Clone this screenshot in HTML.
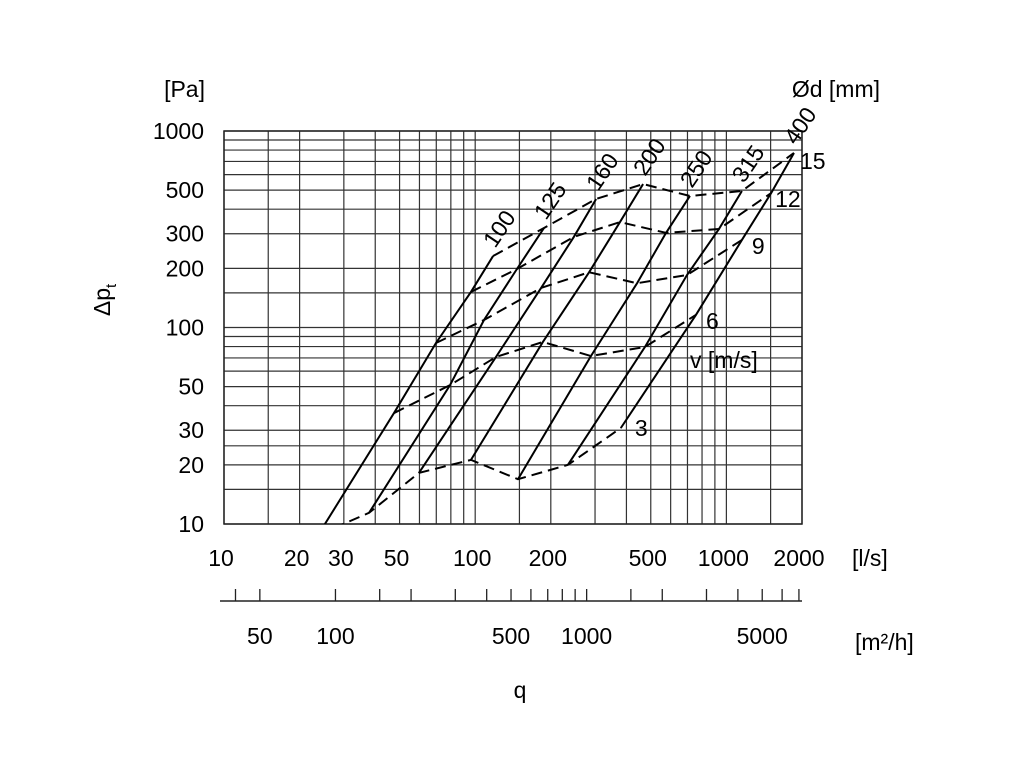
<!DOCTYPE html>
<html><head><meta charset="utf-8"><style>
html,body{margin:0;padding:0;background:#fff;}
svg{display:block;font-family:"Liberation Sans",Arial,sans-serif;}
</style></head><body>
<svg id="chart" width="1024" height="768" viewBox="0 0 1024 768" xmlns="http://www.w3.org/2000/svg">
<defs><clipPath id="plotclip"><rect x="224" y="131" width="578" height="393"/></clipPath></defs>
<g id="grid"></g>
<g id="curves" clip-path="url(#plotclip)"></g>
<g id="labels"></g>
<text x="205" y="97" font-size="23" text-anchor="end">[Pa]</text>
<text x="880" y="97" font-size="23" text-anchor="end">Ød [mm]</text>
<text x="852" y="566" font-size="23">[l/s]</text>
<text x="855" y="650" font-size="23">[m²/h]</text>
<text x="520" y="698" font-size="23" text-anchor="middle">q</text>
<text transform="translate(110,300) rotate(-90)" font-size="23" text-anchor="middle">Δp<tspan font-size="15" dy="6">t</tspan></text>
<text x="690" y="368" font-size="23">v [m/s]</text>
</svg>
<script>
const xTicks=[10,15,20,30,40,50,60,70,80,90,100,150,200,300,400,500,600,700,800,900,1000,1500,2000];
const yTicks=[10,15,20,25,30,40,50,60,70,80,90,100,150,200,300,400,500,600,700,800,900,1000];
const xLabels=[10,20,30,50,100,200,500,1000,2000];
const yLabels=[10,20,30,50,100,200,300,500,1000];
const m3hTicks=[40,50,100,150,200,300,400,500,600,700,800,900,1000,1500,2000,3000,4000,5000,6000,7000];
const m3hLabels=[50,100,500,1000,5000];
const diameters=[100,125,160,200,250,315,400];
const velocities=[3,6,9,12,15];
// flow q [l/s] per diameter, per velocity (3,6,9,12,15)
const q100=[23.7,47.5,69.8,96.2,117.8];
const q125=[37.8,79.4,108.4,146.6,187.9];
const q160=[59.7,121,183,247,303];
const q200=[96.2,186,284,377,466];
const q250=[148,289,441,575,716];
const q315=[234,474,697,934,1153];
const q400=[380,757,1153,1507,1858];
// pressure [Pa]
const p100=[8.8,36.7,83.4,151.7,231];
const p125=[11.4,50.9,109.2,198.5,321];
const p160=[18.2,70.8,159,289,451];
const p200=[21.2,84.4,191,344,537];
const p250=[16.9,71.6,168,303,467];
const p315=[20.0,79.6,185,317,495];
const p400=[30.8,116,279,483,773];
const Q=[q100,q125,q160,q200,q250,q315,q400];
const P=[p100,p125,p160,p200,p250,p315,p400];

const X0=224,X1=802,Y0=524,Y1=131;
const xs=q=>X0+(Math.log10(q)-1)*(X1-X0)/Math.log10(200);
const ys=p=>Y0-(Math.log10(p)-1)*(Y0-Y1)/2;
const xm=m=>xs(m/3.6);
const NS="http://www.w3.org/2000/svg";
function mk(tag,parent){const e=document.createElementNS(NS,tag);parent.appendChild(e);return e;}
const grid=document.getElementById('grid'),curves=document.getElementById('curves'),labels=document.getElementById('labels');

xTicks.forEach(v=>{const l=mk('line',grid);


l.setAttribute('x1',xs(v));l.setAttribute('x2',xs(v));l.setAttribute('y1',Y1);l.setAttribute('y2',Y0);l.setAttribute('stroke','#333');l.setAttribute('stroke-width','1.2');});
yTicks.forEach(v=>{const l=mk('line',grid);


l.setAttribute('x1',X0);l.setAttribute('x2',X1);l.setAttribute('y1',ys(v));l.setAttribute('y2',ys(v));l.setAttribute('stroke','#333');l.setAttribute('stroke-width','1.2');});
const border=mk('rect',grid);


border.setAttribute('x',X0);border.setAttribute('y',Y1);border.setAttribute('width',X1-X0);border.setAttribute('height',Y0-Y1);border.setAttribute('fill','none');border.setAttribute('stroke','#222');border.setAttribute('stroke-width','1.5');

xLabels.forEach(v=>{const t=mk('text',labels);


t.setAttribute('x',xs(v)-3);t.setAttribute('y',566);t.setAttribute('font-size','23');t.setAttribute('text-anchor','middle');t.textContent=v;});
yLabels.forEach(v=>{const t=mk('text',labels);


t.setAttribute('x',204);t.setAttribute('y',ys(v)+8);t.setAttribute('font-size','23');t.setAttribute('text-anchor','end');t.textContent=v;});

// secondary axis m3/h
const ax=mk('line',labels);


ax.setAttribute('x1',220);ax.setAttribute('x2',802);ax.setAttribute('y1',601);ax.setAttribute('y2',601);ax.setAttribute('stroke','#222');ax.setAttribute('stroke-width','1.5');
m3hTicks.forEach(v=>{const l=mk('line',labels);


l.setAttribute('x1',xm(v));l.setAttribute('x2',xm(v));l.setAttribute('y1',589);l.setAttribute('y2',601);l.setAttribute('stroke','#222');l.setAttribute('stroke-width','1.3');});
m3hLabels.forEach(v=>{const t=mk('text',labels);


t.setAttribute('x',xm(v));t.setAttribute('y',644);t.setAttribute('font-size','23');t.setAttribute('text-anchor','middle');t.textContent=v;});

// diameter lines (solid)
diameters.forEach((d,i)=>{const pl=mk('polyline',curves);


pl.setAttribute('points',Q[i].map((q,j)=>xs(q)+','+ys(P[i][j])).join(' '));
pl.setAttribute('fill','none');pl.setAttribute('stroke','#000');pl.setAttribute('stroke-width','2');
const top=Q[i].length-1;
const t=mk('text',labels);


const tx=xs(Q[i][top])+2,ty=ys(P[i][top])-7;
t.setAttribute('transform','translate('+tx+','+ty+') rotate(-56)');
t.setAttribute('font-size','23');t.textContent=d;});

// velocity lines (dashed)
velocities.forEach((v,j)=>{const pl=mk('polyline',curves);


pl.setAttribute('points',diameters.map((d,i)=>xs(Q[i][j])+','+ys(P[i][j])).join(' '));
pl.setAttribute('fill','none');pl.setAttribute('stroke','#000');pl.setAttribute('stroke-width','2');pl.setAttribute('stroke-dasharray','11 6');
const last=diameters.length-1;
if(v!==3){const t=mk('text',labels);


t.setAttribute('x',xs(Q[last][j])+(v===15?6:(v===12?4:10)));t.setAttribute('y',ys(P[last][j])+(v===15?16:14));t.setAttribute('font-size','23');t.textContent=v;}
else{const t=mk('text',labels);


t.setAttribute('x',xs(Q[last][j])+14);t.setAttribute('y',ys(P[last][j])+8);t.setAttribute('font-size','23');t.textContent=v;}
});
</script>
</body></html>
